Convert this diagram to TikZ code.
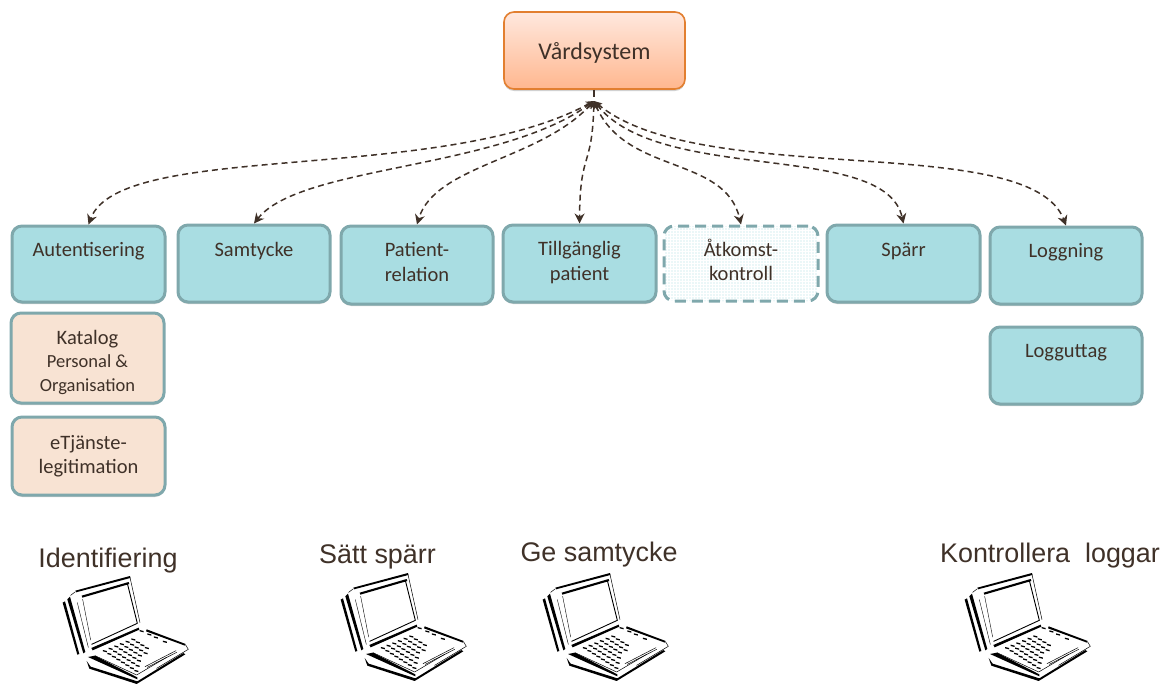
\documentclass[tikz,border=0pt]{standalone}
\usepackage{fontspec}
\setmainfont{Carlito}
\newfontfamily\headfont{Liberation Sans}
\usetikzlibrary{arrows.meta,shadows,patterns.meta}
\definecolor{tealfill}{HTML}{A9DDE2}
\definecolor{tealline}{HTML}{7FA8AC}
\definecolor{peach}{HTML}{F8E3D3}
\definecolor{inktext}{HTML}{3F3128}
\definecolor{orangeline}{HTML}{E27F30}
\definecolor{vardtop}{HTML}{FFE8DE}
\definecolor{vardbot}{HTML}{FFB78F}
\newcommand{\shiftln}[2]{\strut\raisebox{#1}[0pt][0pt]{#2}}
\tikzset{
  x=1pt,y=-1pt,
  softshadow/.style={drop shadow={shadow xshift=0pt,shadow yshift=-2pt,opacity=.18,fill=black}},
  plainbox/.style={rounded corners=10pt,line width=3pt,draw=tealline,align=center,text=inktext,
    font=\fontsize{20.5}{24.5}\selectfont,inner sep=0pt},
  tealbox/.style={plainbox,softshadow,fill=tealfill},
  peachbox/.style={plainbox,softshadow,fill=peach},
  dotbox/.style={plainbox,dash pattern=on 11pt off 6pt,
     pattern={Dots[distance=3pt,radius=.55pt]},pattern color=tealfill},
  mainbox/.style={rounded corners=10pt,line width=1.6pt,draw=orangeline,top color=vardtop,bottom color=vardbot,
     align=center,text=inktext,font=\fontsize{24}{26}\selectfont,inner sep=0pt,softshadow},
  heading/.style={text=inktext,font=\headfont\fontsize{26.9}{30}\selectfont,inner sep=0pt},
  link/.style={draw=inktext,line width=1.5pt,dash pattern=on 6pt off 4pt,
     {Stealth[length=8pt,width=7pt]}-{Stealth[length=10pt,width=10pt]}},
  lapthick/.style={line width=#1,line cap=round,line join=round,draw=black},
  laptop/.pic={
    \begin{scope}[x=.3333pt,y=-.3333pt]
      % lid
      \fill (166,92) -- (330,48) -- (331,54) -- (168,97) -- cycle;
      \fill (185,107) -- (326,66) -- (328,72) -- (187,113) -- cycle;
      \draw[lapthick=.5pt] (330,52) -- (360,188);
      \draw[lapthick=.9pt] (322,70) -- (352,190) -- (215,253);
      \draw[lapthick=.4pt] (188,118) -- (212,240);
      \fill (128,128) -- (135,124) -- (178,282) -- (172,284) -- cycle;
      \fill (142,118) -- (150,110) -- (196,276) -- (190,280) -- cycle;
      \draw[lapthick=.5pt] (152,106) -- (165,96);
      \draw[lapthick=.4pt] (172,128) -- (205,262);
      % deck
      \fill (214,264) -- (356,203) -- (358,209) -- (218,271) -- cycle;
      \fill (380,208) -- (497,252) -- (495,257) -- (378,214) -- cycle;
      \draw[lapthick=.5pt] (497,255) -- (505,268) -- (410,325);
      \draw[lapthick=.5pt] (375,320) -- (468,272);
      \draw[lapthick=.5pt] (382,322) -- (470,277);
      % base
      \draw[lapthick=.5pt] (225,287) -- (350,345) -- (440,292);
      \fill (204,291) -- (225,287) -- (352,352) -- (352,358) -- cycle;
      \fill (200,303) -- (208,326) -- (350,372) -- (496,283) -- (490,279) -- (352,364) -- (212,320) -- cycle;
      % keys
      \foreach \row/\n in {0/6,1/6,2/6,3/6,4/5,5/3,6/2,7/1}{
        \foreach \k in {1,...,\n}{
          \fill[shift={({255+\row*13.5+(\k-1)*17},{272+\row*8.5-(\k-1)*7})}]
            (-6,-2) -- (6,1) -- (6,5) -- (-6,2) -- cycle;
        }
      }
      \foreach \a/\b in {365/212,388/222,408/231,435/244}{
        \fill[shift={(\a,\b)}] (-6,-2) -- (6,1) -- (6,5) -- (-6,2) -- cycle;
      }
    \end{scope}
  },
}
\begin{document}
\begin{tikzpicture}
\useasboundingbox (0,0) rectangle (1164,685);
\node[mainbox,minimum width=181pt,minimum height=77pt] (vard) at (594.5,50.5) {\shiftln{-4pt}{Vårdsystem}};
\coordinate (hub) at (594,101);
\coordinate (stub) at (594,97);

\node[tealbox,minimum width=153pt,minimum height=76pt] (aut) at (88.5,264) {\shiftln{0.5pt}{Autentisering}\\\strut};
\node[tealbox,minimum width=152pt,minimum height=77pt] (sam) at (254,263.5) {\shiftln{0pt}{Samtycke}\\\strut};
\node[tealbox,minimum width=152pt,minimum height=78pt] (pat) at (417,265) {\shiftln{1.5pt}{Patient-}\\\shiftln{0.5pt}{relation}};
\node[tealbox,minimum width=153pt,minimum height=77pt] (til) at (579.5,263.5) {\shiftln{0.5pt}{Tillgänglig}\\\shiftln{0.5pt}{patient}};
\node[dotbox,minimum width=154pt,minimum height=75pt] (atk) at (741,263.5) {\shiftln{0pt}{Åtkomst-}\\\shiftln{0pt}{kontroll}};
\node[tealbox,minimum width=153pt,minimum height=77pt] (spa) at (903.5,263.5) {\shiftln{0pt}{Spärr}\\\strut};
\node[tealbox,minimum width=152pt,minimum height=77pt] (log) at (1066,265.5) {\shiftln{1pt}{Loggning}\\\strut};
\node[tealbox,minimum width=152pt,minimum height=77pt] (ugt) at (1066,365.5) {\shiftln{1pt}{Logguttag}\\\strut};
\node[peachbox,minimum width=153pt,minimum height=90pt] (kat) at (87.5,358) {\shiftln{-6pt}{Katalog}\\{\fontsize{18.5}{23}\selectfont\shiftln{-4pt}{Personal \&}}\\{\fontsize{18.5}{23}\selectfont\shiftln{-4pt}{Organisation}}};
\node[peachbox,minimum width=153pt,minimum height=78pt] (etj) at (88.5,456) {\shiftln{-0.5pt}{eTjänste-}\\\shiftln{-0.5pt}{legitimation}};

\draw[line width=2.5pt,draw=inktext] (vard.south -| hub) -- (stub);
\draw[link] (hub) .. controls (440,185) and (120,140) .. (aut.north);
\draw[link] (hub) .. controls (500,170) and (300,165) .. (sam.north);
\draw[link] (hub) .. controls (540,160) and (435,165) .. (pat.north);
\draw[link] (hub) .. controls (592,170) and (580,150) .. (til.north);
\draw[link] (hub) .. controls (625,175) and (725,155) .. (atk.north);
\draw[link] (hub) .. controls (660,185) and (885,140) .. (spa.north);
\draw[link] (hub) .. controls (700,190) and (1030,130) .. (log.north);

\node[heading] (h1) at (108,561) {Identifiering};
\node[heading] (h2) at (377.5,557) {Sätt spärr};
\node[heading] (h3) at (599,555) {Ge samtycke};
\node[heading] (h4) at (1050,556) {Kontrollera\ \ loggar};

\path (20,560) pic {laptop};
\path (298,557) pic {laptop};
\path (500,557) pic {laptop};
\path (922,557) pic {laptop};
\end{tikzpicture}
\end{document}
